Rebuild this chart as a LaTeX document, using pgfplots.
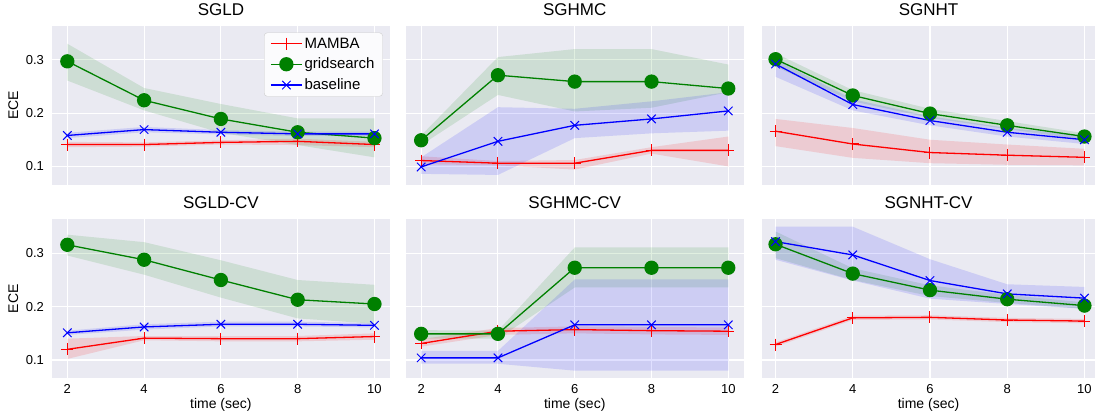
\documentclass[border=0pt]{standalone}
\usepackage{fontspec}
\setmainfont{Liberation Sans}
\usepackage{pgfplots}
\pgfplotsset{compat=1.18}
\usepackage{pgfplotstable}
\usepgfplotslibrary{fillbetween}

\definecolor{bg}{HTML}{EAEAF2}
\definecolor{mred}{HTML}{FF0000}
\definecolor{mgreen}{HTML}{008000}
\definecolor{mblue}{HTML}{0000FF}
\definecolor{legedge}{HTML}{CCCCCC}

% columns: x, MAMBA (mean, low, high), gridsearch (mean, low, high), baseline (mean, low, high)
\pgfplotstableread{
x  r     rl    rh    g     gl    gh    b     bl    bh
2  0.141 0.136 0.146 0.297 0.261 0.330 0.158 0.153 0.163
4  0.141 0.137 0.145 0.224 0.205 0.247 0.169 0.164 0.174
6  0.145 0.141 0.149 0.189 0.163 0.217 0.164 0.160 0.168
8  0.147 0.140 0.152 0.164 0.140 0.190 0.161 0.157 0.165
10 0.141 0.136 0.146 0.153 0.117 0.190 0.161 0.157 0.165
}\tSGLD
\pgfplotstableread{
x  r     rl    rh    g     gl    gh    b     bl    bh
2  0.111 0.104 0.119 0.149 0.140 0.158 0.099 0.086 0.117
4  0.106 0.102 0.110 0.271 0.234 0.305 0.147 0.084 0.211
6  0.106 0.094 0.112 0.259 0.203 0.320 0.177 0.153 0.208
8  0.130 0.124 0.136 0.259 0.210 0.320 0.189 0.162 0.222
10 0.130 0.100 0.156 0.246 0.239 0.291 0.204 0.167 0.239
}\tSGHMC
\pgfplotstableread{
x  r     rl    rh    g     gl    gh    b     bl    bh
2  0.166 0.138 0.189 0.301 0.287 0.312 0.292 0.268 0.300
4  0.142 0.116 0.172 0.233 0.222 0.243 0.216 0.205 0.226
6  0.126 0.106 0.150 0.199 0.191 0.208 0.186 0.177 0.194
8  0.121 0.103 0.141 0.177 0.170 0.185 0.164 0.156 0.172
10 0.117 0.102 0.133 0.156 0.150 0.162 0.150 0.142 0.158
}\tSGNHT
\pgfplotstableread{
x  r     rl    rh    g     gl    gh    b     bl    bh
2  0.120 0.102 0.140 0.316 0.296 0.335 0.151 0.147 0.155
4  0.141 0.137 0.145 0.288 0.260 0.321 0.162 0.157 0.167
6  0.140 0.135 0.145 0.250 0.217 0.287 0.167 0.163 0.172
8  0.140 0.135 0.145 0.213 0.178 0.250 0.167 0.163 0.172
10 0.144 0.138 0.150 0.205 0.168 0.241 0.165 0.161 0.169
}\tSGLDCV
\pgfplotstableread{
x  r     rl    rh    g     gl    gh    b     bl    bh
2  0.131 0.125 0.139 0.149 0.140 0.156 0.104 0.093 0.117
4  0.154 0.147 0.160 0.149 0.140 0.155 0.104 0.093 0.117
6  0.157 0.150 0.163 0.273 0.236 0.311 0.166 0.080 0.251
8  0.155 0.148 0.162 0.273 0.236 0.311 0.166 0.080 0.251
10 0.154 0.147 0.161 0.273 0.236 0.311 0.166 0.080 0.251
}\tSGHMCCV
\pgfplotstableread{
x  r     rl    rh    g     gl    gh    b     bl    bh
2  0.129 0.125 0.133 0.317 0.291 0.341 0.322 0.288 0.350
4  0.179 0.175 0.183 0.262 0.250 0.272 0.297 0.249 0.350
6  0.180 0.176 0.184 0.231 0.220 0.240 0.249 0.215 0.289
8  0.175 0.171 0.179 0.214 0.207 0.222 0.224 0.205 0.242
10 0.173 0.169 0.177 0.202 0.196 0.208 0.216 0.196 0.237
}\tSGNHTCV

\pgfplotsset{
  panel/.style={
    scale only axis, width=338bp, height=159bp,
    xmin=1.6, xmax=10.4, ymin=0.066, ymax=0.364,
    xtick={2,4,6,8,10}, ytick={0.1,0.2,0.3},
    axis background/.style={fill=bg},
    axis line style={draw=none},
    major tick length=0pt,
    grid=major, grid style={white, line width=1.1bp},
    tick label style={font=\fontsize{13bp}{15bp}\selectfont},
    /pgf/number format/assume math mode=true,
    yticklabel style={xshift=-4.5bp},
    xticklabel style={yshift=-2.5bp},
    title style={font=\fontsize{17bp}{20bp}\selectfont, at={(axis description cs:0.5,1.028)}, anchor=base},
    xlabel style={font=\fontsize{14bp}{16bp}\selectfont, at={(axis description cs:0.5,-0.193)}, anchor=base},
    ylabel style={font=\fontsize{14bp}{16bp}\selectfont, at={(axis description cs:-0.1,0.5)}, anchor=base},
    legend style={at={(axis description cs:0.979,0.956)}, anchor=north east,
      fill=white!82!bg, draw=legedge, rounded corners=3bp,
      font=\fontsize{15bp}{18bp}\selectfont, row sep=4.5bp, inner xsep=6bp, inner ysep=3bp,
      /tikz/every even column/.append style={column sep=10bp}},
    legend cell align=left,
    legend image code/.code={\draw[mark repeat=2,mark phase=2] plot coordinates {(0bp,0bp) (15.5bp,0bp) (31bp,0bp)};},
  },
  lr/.style={draw=mred, color=mred, line width=1.3bp, mark=+, mark size=6bp, mark options={line width=1bp, draw=mred}},
  lg/.style={color=mgreen, line width=1.3bp, mark=*, mark size=6.5bp},
  lb/.style={color=mblue, line width=1.3bp, mark=x, mark size=6bp, mark options={line width=1bp}},
}

\newcommand{\panel}[5]{%
\begin{axis}[panel, at={#3}, anchor=north west, title={#2}, #4]
  #5
  \addplot[draw=none, name path=rh, forget plot] table[x=x,y=rh]{#1};
  \addplot[draw=none, name path=rl, forget plot] table[x=x,y=rl]{#1};
  \addplot[draw=none, name path=gh, forget plot] table[x=x,y=gh]{#1};
  \addplot[draw=none, name path=gl, forget plot] table[x=x,y=gl]{#1};
  \addplot[draw=none, name path=bh, forget plot] table[x=x,y=bh]{#1};
  \addplot[draw=none, name path=bl, forget plot] table[x=x,y=bl]{#1};
  \addplot[fill=mred, fill opacity=0.13, forget plot] fill between[of=rh and rl];
  \addplot[lr, forget plot] table[x=x,y=r]{#1};
  \addplot[fill=mgreen, fill opacity=0.12, forget plot] fill between[of=gh and gl];
  \addplot[lg, forget plot] table[x=x,y=g]{#1};
  \addplot[fill=mblue, fill opacity=0.12, forget plot] fill between[of=bh and bl];
  \addplot[lb, forget plot] table[x=x,y=b]{#1};
\end{axis}}

\begin{document}
\begin{tikzpicture}
\panel{\tSGLD}{SGLD}{(52bp,-22bp)}{xticklabels={}, ylabel={ECE}}{%
  \addlegendimage{lr}\addlegendentry{MAMBA}
  \addlegendimage{lg}\addlegendentry{gridsearch}
  \addlegendimage{lb}\addlegendentry{baseline}}
\panel{\tSGHMC}{SGHMC}{(406bp,-22bp)}{xticklabels={}, yticklabels={}}{}
\panel{\tSGNHT}{SGNHT}{(762bp,-22bp)}{xticklabels={}, yticklabels={}, width=334bp, xmin=1.64, xmax=10.285}{}
\panel{\tSGLDCV}{SGLD-CV}{(52bp,-215.7bp)}{ylabel={ECE}, xlabel={time (sec)}}{}
\panel{\tSGHMCCV}{SGHMC-CV}{(406bp,-215.7bp)}{yticklabels={}, xlabel={time (sec)}}{}
\panel{\tSGNHTCV}{SGNHT-CV}{(762bp,-215.7bp)}{yticklabels={}, xlabel={time (sec)}, width=334bp, xmin=1.64, xmax=10.285}{}
\path (0,0) rectangle (1096bp,-412bp);
\end{tikzpicture}
\end{document}
